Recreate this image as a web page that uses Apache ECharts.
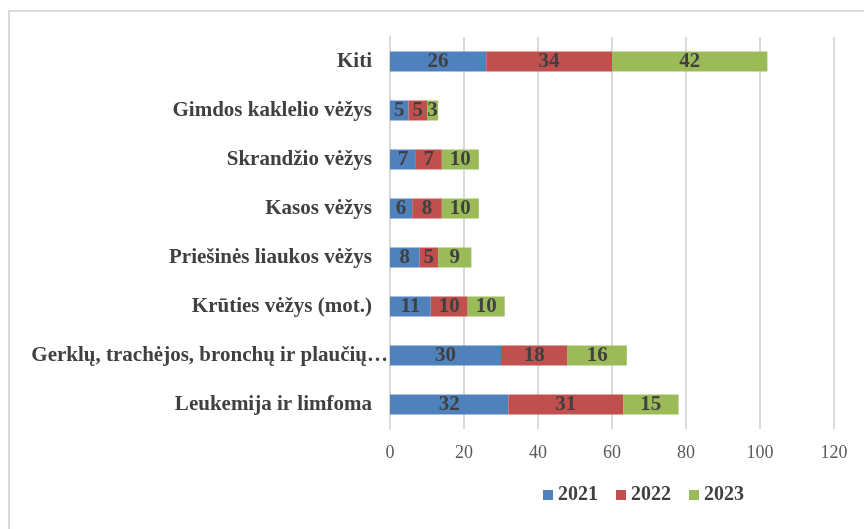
<!DOCTYPE html>
<html>
<head>
<meta charset="utf-8">
<script src="https://cdn.jsdelivr.net/npm/echarts@6/dist/echarts.min.js"></script>
<style>
  html, body { margin: 0; padding: 0; background: #fff; }
  #chart { width: 864px; height: 529px; }
</style>
</head>
<body>
<div id="chart"></div>
<script>
// categories bottom to top (as ECharts category y-axis draws them)
var categories = [
    'Leukemija ir limfoma',
    'Gerklų, trachėjos, bronchų ir plaučių…',
    'Krūties vėžys (mot.)',
    'Priešinės liaukos vėžys',
    'Kasos vėžys',
    'Skrandžio vėžys',
    'Gimdos kaklelio vėžys',
    'Kiti'
];
var years = ['2021', '2022', '2023'];
var values2021 = [32, 30, 11, 8, 6, 7, 5, 26];
var values2022 = [31, 18, 10, 5, 8, 7, 5, 34];
var values2023 = [15, 16, 10, 9, 10, 10, 3, 42];
var colors = ['#4F81BD', '#C0504D', '#9BBB59'];

var serif = '"Liberation Serif", "DejaVu Serif", serif';

function makeSeries(name, data, color) {
    return {
        name: name,
        type: 'bar',
        stack: 'total',
        barWidth: 20,
        data: data,
        itemStyle: { color: color },
        label: {
            show: true,
            position: 'inside',
            color: '#404040',
            fontFamily: serif,
            fontWeight: 'bold',
            fontSize: 21
        }
    };
}

var labelFont = { color: '#404040', fontSize: 21, fontWeight: 'bold', fontFamily: serif };

var chart = echarts.init(document.getElementById('chart'));
chart.setOption({
    animation: false,
    textStyle: { fontFamily: serif },
    graphic: [{
        type: 'rect',
        shape: { x: 9, y: 11, width: 900, height: 600 },
        style: { fill: 'none', stroke: '#d9d9d9', lineWidth: 2 },
        silent: true
    }],
    grid: { left: 390, right: 30, top: 37, bottom: 100 },
    legend: {
        bottom: 19,
        left: 538,
        itemWidth: 10,
        itemHeight: 10,
        itemGap: 18,
        icon: 'rect',
        textStyle: { fontFamily: serif, fontWeight: 'bold', fontSize: 20, color: '#404040' },
        data: years
    },
    xAxis: {
        type: 'value',
        min: 0,
        max: 120,
        interval: 20,
        axisLine: { show: false },
        axisTick: { show: false },
        axisLabel: { color: '#595959', fontSize: 18, fontFamily: serif, margin: 15 },
        splitLine: { lineStyle: { color: '#d9d9d9', width: 2 } }
    },
    yAxis: {
        type: 'category',
        data: categories,
        axisLine: { show: true, lineStyle: { color: '#d9d9d9', width: 2 } },
        axisTick: { show: false },
        axisLabel: {
            color: '#404040',
            fontSize: 21,
            fontWeight: 'bold',
            fontFamily: serif,
            margin: 2,
            // truncated label runs up to the axis, the others stop short of it
            formatter: function (v) {
                return v.slice(-1) === '…' ? '{long|' + v + '}' : '{n|' + v + '}';
            },
            rich: {
                n: Object.assign({ padding: [0, 16, 0, 0] }, labelFont),
                long: Object.assign({}, labelFont)
            }
        }
    },
    series: [
        makeSeries(years[0], values2021, colors[0]),
        makeSeries(years[1], values2022, colors[1]),
        makeSeries(years[2], values2023, colors[2])
    ]
});
</script>
</body>
</html>
